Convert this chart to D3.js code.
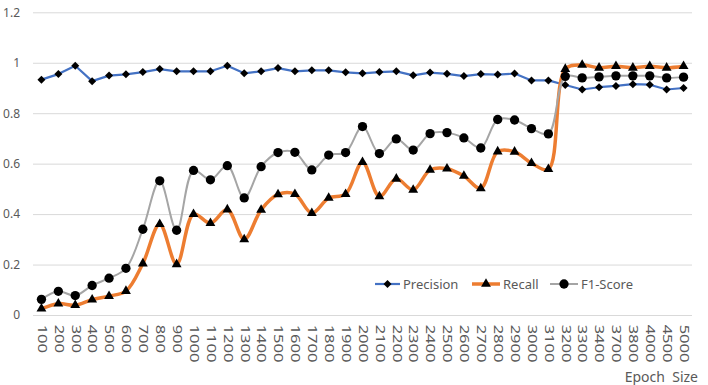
<!DOCTYPE html>
<meta charset="utf-8">
<style>
body { margin: 0; background: #fff; }
text { font-family: "Noto Sans", "Open Sans", sans-serif; fill: #595959; }
.grid line { stroke: #d9d9d9; stroke-width: 1; }
</style>

<svg width="708" height="385"></svg>

<script src="https://d3js.org/d3.v7.min.js"></script>
<script>

var epochs = ["100","200","300","400","500","600","700","800","900","1000","1100","1200","1300","1400","1500",
              "1600","1700","1800","1900","2000","2100","2200","2300","2400","2500","2600","2700","2800","2900",
              "3000","3100","3200","3300","3400","3700","3800","4000","4500","5000"];

var precision = [0.933,0.955,0.988,0.927,0.949,0.954,0.963,0.975,0.966,0.966,0.966,0.988,0.958,0.966,0.979,
                 0.966,0.970,0.970,0.962,0.958,0.963,0.966,0.950,0.961,0.956,0.947,0.955,0.953,0.957,
                 0.930,0.930,0.912,0.894,0.903,0.908,0.915,0.913,0.894,0.900];

var recall = [0.025,0.045,0.039,0.061,0.075,0.095,0.204,0.360,0.201,0.400,0.364,0.418,0.300,0.417,0.478,
              0.479,0.404,0.464,0.479,0.606,0.470,0.540,0.496,0.575,0.580,0.551,0.502,0.648,0.647,
              0.602,0.578,0.975,0.991,0.980,0.986,0.980,0.986,0.980,0.986];

var f1 = [0.062,0.094,0.077,0.117,0.146,0.185,0.340,0.532,0.336,0.573,0.536,0.592,0.464,0.588,0.644,
          0.645,0.575,0.634,0.644,0.747,0.640,0.698,0.654,0.719,0.723,0.702,0.662,0.775,0.773,
          0.739,0.718,0.946,0.940,0.944,0.948,0.948,0.948,0.940,0.943];

var yTicks = [0, 0.2, 0.4, 0.6, 0.8, 1, 1.2];

var svg = d3.select("svg");
var plotL = 33, plotR = 692, plotT = 12.3, plotB = 315;

var x = d3.scalePoint().domain(epochs).range([plotL, plotR]).padding(0.5);
var y = d3.scaleLinear().domain([0, 1.2]).range([plotB, plotT]);

// horizontal grid + y labels
var gy = svg.append("g")
    .attr("class", "grid")
    .attr("transform", "translate(" + plotL + ",0)")
    .call(d3.axisLeft(y).tickValues(yTicks).tickSize(-(plotR - plotL)).tickPadding(13)
      .tickFormat(d3.format("~g")));
gy.select(".domain").remove();
gy.selectAll("text").style("font-size", "12px").style("fill", "#595959");

// x labels, rotated
var gx = svg.append("g")
    .attr("transform", "translate(0," + plotB + ")")
    .call(d3.axisBottom(x).tickSize(0));
gx.select(".domain").remove();
gx.selectAll("text")
    .style("font-size", "12px")
    .style("fill", "#595959")
    .attr("text-anchor", "start")
    .attr("transform", "rotate(90) scale(1.38,1)")
    .attr("x", 7)
    .attr("y", 0)
    .attr("dy", "0.35em");

var series = [
  {name: "Precision", values: precision, color: "#4472C4", width: 2.2, curve: d3.curveLinear,
   symbol: d3.symbolSquare, size: 32, rot: 45},
  {name: "Recall", values: recall, color: "#ED7D31", width: 3.5, curve: d3.curveCatmullRom.alpha(0.5),
   symbol: d3.symbolTriangle, size: 42, rot: 0},
  {name: "F1-Score", values: f1, color: "#A5A5A5", width: 2, curve: d3.curveCatmullRom.alpha(0.5),
   symbol: d3.symbolCircle, size: 68, rot: 0}
];

series.forEach(function(s) {
  var line = d3.line()
      .x(function(d, i) { return x(epochs[i]); })
      .y(function(d) { return y(d); })
      .curve(s.curve);

  svg.append("path")
      .datum(s.values)
      .attr("fill", "none")
      .attr("stroke", s.color)
      .attr("stroke-width", s.width)
      .attr("stroke-linejoin", "round")
      .attr("d", line);

  svg.append("g").selectAll("path")
    .data(s.values)
    .enter().append("path")
      .attr("d", d3.symbol().type(s.symbol).size(s.size))
      .attr("fill", "#000")
      .attr("transform", function(d, i) {
        return "translate(" + x(epochs[i]) + "," + y(d) + ") rotate(" + s.rot + ")";
      });
});

// legend
var legX = [375, 472, 550];
var legend = svg.append("g").attr("transform", "translate(0,284)");
series.forEach(function(s, i) {
  var g = legend.append("g").attr("transform", "translate(" + legX[i] + ",0)");
  var w = i === 0 ? 25 : 28;
  g.append("line").attr("x1", 0).attr("x2", w).attr("y1", 0).attr("y2", 0)
      .attr("stroke", s.color).attr("stroke-width", s.width);
  g.append("path")
      .attr("d", d3.symbol().type(s.symbol).size(s.size))
      .attr("fill", "#000")
      .attr("transform", "translate(" + (w / 2) + ",0) rotate(" + s.rot + ")");
  g.append("text")
      .attr("x", w + 3)
      .attr("dy", "0.35em")
      .style("font-size", "13px")
      .text(s.name);
});

svg.append("text")
    .attr("x", 698)
    .attr("y", 382)
    .attr("text-anchor", "end")
    .style("font-size", "14px")
    .style("white-space", "pre")
    .text("Epoch  Size");

</script>
